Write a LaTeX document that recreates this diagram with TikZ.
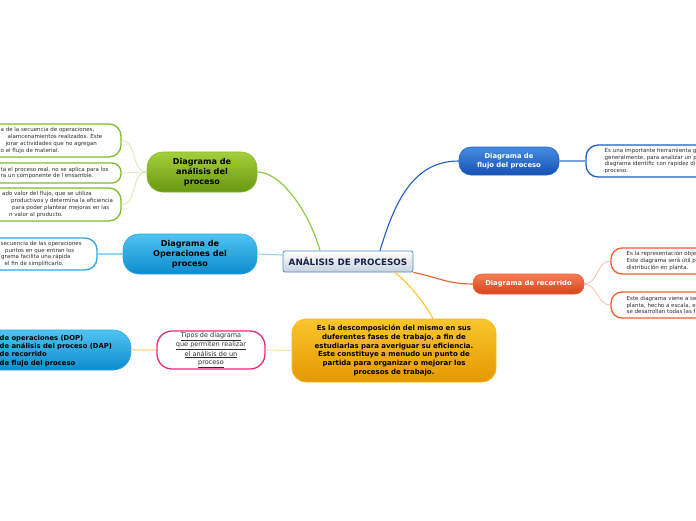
\documentclass[tikz,border=0pt]{standalone}
\usepackage{fontspec}
\setmainfont{DejaVu Sans}
\definecolor{gtop}{RGB}{165,207,60}
\definecolor{gbot}{RGB}{104,152,16}
\definecolor{gline}{RGB}{140,196,55}
\definecolor{gbord}{RGB}{128,188,40}
\definecolor{glite}{RGB}{205,228,160}
\definecolor{btop}{RGB}{80,195,242}
\definecolor{bbot}{RGB}{12,140,205}
\definecolor{bbord}{RGB}{40,168,228}
\definecolor{blite}{RGB}{145,212,242}
\definecolor{ftop}{RGB}{70,140,225}
\definecolor{fbot}{RGB}{22,82,180}
\definecolor{fbord}{RGB}{32,95,195}
\definecolor{flite}{RGB}{120,165,225}
\definecolor{rtop}{RGB}{246,125,85}
\definecolor{rbot}{RGB}{212,68,28}
\definecolor{rbord}{RGB}{240,92,45}
\definecolor{rlite}{RGB}{247,175,150}
\definecolor{otop}{RGB}{250,197,45}
\definecolor{obot}{RGB}{228,152,0}
\definecolor{obord}{RGB}{245,185,25}
\definecolor{ylite}{RGB}{252,228,172}
\definecolor{pbord}{RGB}{236,40,120}
\definecolor{ctext}{RGB}{25,35,70}
\definecolor{cbord}{RGB}{70,140,205}
\definecolor{txt}{RGB}{45,45,45}
\begin{document}
\begin{tikzpicture}[x=1pt,y=-1pt,
  pill/.style={inner sep=0pt, align=center, font=\bfseries\fontsize{8.1}{9.9}\selectfont},
  smalltxt/.style={inner sep=0pt, align=left, text=txt, font=\fontsize{5.5}{6.9}\selectfont},
  tbox/.style={draw, fill=white, line width=1.3pt, inner sep=0pt},
  conn/.style={line width=1.1pt},
  thin/.style={line width=0.6pt}
]
\useasboundingbox (0,0) rectangle (696,520);
\clip (0,0) rectangle (696,520);
\fill[white] (0,0) rectangle (696,520);

% central
\node[draw=cbord, line width=0.8pt, rounded corners=2pt, top color=white, bottom color={rgb,255:red,200;green,210;blue,220},
  minimum width=130, minimum height=21, inner sep=0pt, text=ctext, font=\bfseries\fontsize{8.8}{10}\selectfont] (c) at (348,261.5) {ANÁLISIS DE PROCESOS};

% green branch
\node[pill, draw=gbord, line width=0.6pt, rounded corners=16pt, top color=gtop, bottom color=gbot,
  minimum width=110, minimum height=40] (g) at (202,172) {Diagrama de\\análisis del\\proceso};
\node[tbox, draw=gbord, rounded corners=12pt, minimum width=181, minimum height=33] (g1) at (30.5,140.5) {};
\node[tbox, draw=gbord, rounded corners=9pt, minimum width=181, minimum height=20] (g2) at (30.5,173) {};
\node[tbox, draw=gbord, rounded corners=12pt, minimum width=181, minimum height=33] (g3) at (30.5,204.5) {};
\node[smalltxt, anchor=west] (g1t) at (0.5,140.5) {a de la secuencia de operaciones,\\\hspace*{7pt}alamcenamientos realizados. Este\\\hspace*{5pt}jorar actividades que no agregan\\o el flujo de material.};
\node[smalltxt, anchor=west] (g2t) at (0.5,173) {ta el proceso real, no se aplica para los\\ra un componente de l ensamble.};
\node[smalltxt, anchor=west] (g3t) at (0.5,204.5) {\hspace*{1.5pt}ado valor del flujo, que se utiliza\\\hspace*{10.5pt}productivos y determina la eficiencia\\\hspace*{11.5pt}para poder plantear mejoras en las\\\hspace*{8.5pt}n valor al producto.};

% operaciones branch
\node[pill, draw=bbord, line width=0.6pt, rounded corners=16pt, top color=btop, bottom color=bbot,
  minimum width=134, minimum height=40] (op) at (190,254) {Diagrama de\\Operaciones del\\proceso};
\node[tbox, draw=bbord, rounded corners=12pt, minimum width=157, minimum height=32] (op1) at (18.5,254) {};
\node[smalltxt, anchor=west] (op1t) at (0.5,254) {secuencia de las operaciones\\\hspace*{4.5pt}puntos en que entran los\\\hspace*{0.5pt}grama facilita una rápida\\\hspace*{4pt}el fin de simplificarlo.};

% flujo branch
\node[pill, text=white, draw=fbord, line width=0.6pt, rounded corners=12pt, top color=ftop, bottom color=fbot,
  minimum width=100, minimum height=28, font=\bfseries\fontsize{6.8}{8.8}\selectfont] (f) at (509,161) {Diagrama de\\flujo del proceso};
\node[tbox, draw=fbord, rounded corners=12pt, minimum width=160, minimum height=32] (f1) at (666,161) {};
\node[smalltxt, anchor=west] (f1t) at (604.5,161) {Es una importante herramienta g\\generalmente, para analizar un p\\diagrama identific con rapidez di\\proceso.};

% recorrido branch
\node[pill, text=white, draw=rbord, line width=0.6pt, rounded corners=9pt, top color=rtop, bottom color=rbot,
  minimum width=111, minimum height=20, font=\bfseries\fontsize{6.8}{8.8}\selectfont] (r) at (528.5,284) {Diagrama de recorrido};
\node[tbox, draw=rbord, rounded corners=11pt, minimum width=140, minimum height=26] (r1) at (681,261) {};
\node[tbox, draw=rbord, rounded corners=11pt, minimum width=140, minimum height=26] (r2) at (681,305) {};
\node[smalltxt, anchor=west] (r1t) at (626.5,261) {Es la representación obje\\Este diagrama será útil p\\distribución en planta.};
\node[smalltxt, anchor=west] (r2t) at (626.5,305) {Este diagrama viene a se\\planta, hecho a escala, e\\se desarrollan todas las f};

% orange big box
\node[draw=obord, line width=0.6pt, rounded corners=14pt, top color=otop, bottom color=obot,
  minimum width=204, minimum height=63, inner sep=0pt, align=center, text width=200,
  font=\bfseries\fontsize{7}{8.7}\selectfont] (o) at (394,350.5) {Es la descomposición del mismo en sus\\duferentes fases de trabajo, a fin de\\estudiarlas para averiguar su eficiencia.\\Este constituye a menudo un punto de\\partida para organizar o mejorar los\\procesos de trabajo.};

% pink
\node[draw=pbord, fill=white, line width=1.3pt, rounded corners=15pt, minimum width=108, minimum height=38, inner sep=0pt,
  align=center, text=txt, font=\fontsize{6.5}{8.1}\selectfont] (p) at (211,350) {\underline{Tipos de diagrama}\\\underline{que permiten realizar}\\\underline{el análisis de un}\\\underline{proceso}};

% DOP box
\node[draw=bbord, line width=0.6pt, rounded corners=18pt, top color=btop, bottom color=bbot,
  minimum width=191, minimum height=40, inner sep=0pt] (d) at (35.5,350) {};
\node[inner sep=0pt, anchor=west, align=left, font=\bfseries\fontsize{6.8}{8.2}\selectfont] (dt) at (-0.5,351) {de operaciones (DOP)\\de análisis del proceso (DAP)\\de recorrido\\de flujo del proceso};

% connectors
\draw[conn, draw=gline] ([xshift=-28pt]c.north) .. controls +(-10,-36) and +(25,0) .. (g.east);
\draw[conn, draw=blite] ([yshift=6.5pt]c.west) -- (op.east);
\draw[conn, draw=fbord] ([xshift=32pt]c.north) .. controls +(15,-50) and +(-45,0) .. (f.west);
\draw[conn, draw=rbord] (c.south east) .. controls +(25,5) and +(-25,0) .. (r.west);
\draw[conn, draw=otop] ([xshift=47pt]c.south) .. controls +(15,12) and +(-8,-15) .. ([xshift=39pt]o.north);
\draw[conn, draw=ylite] (o.west) -- (p.east);
\draw[conn, draw=ylite] (p.west) -- (d.east);
\draw[thin, draw=glite] (g.west) to[out=180,in=0] (g1.east);
\draw[thin, draw=glite] (g.west) to[out=180,in=0] (g2.east);
\draw[thin, draw=glite] (g.west) to[out=180,in=0] (g3.east);
\draw[conn, draw=blite] (op.west) -- (op1.east);
\draw[conn, draw=flite] (f.east) -- (f1.west);
\draw[thin, draw=rlite] (r.east) to[out=0,in=180] (r1.west);
\draw[thin, draw=rlite] (r.east) to[out=0,in=180] (r2.west);
\end{tikzpicture}
\end{document}
